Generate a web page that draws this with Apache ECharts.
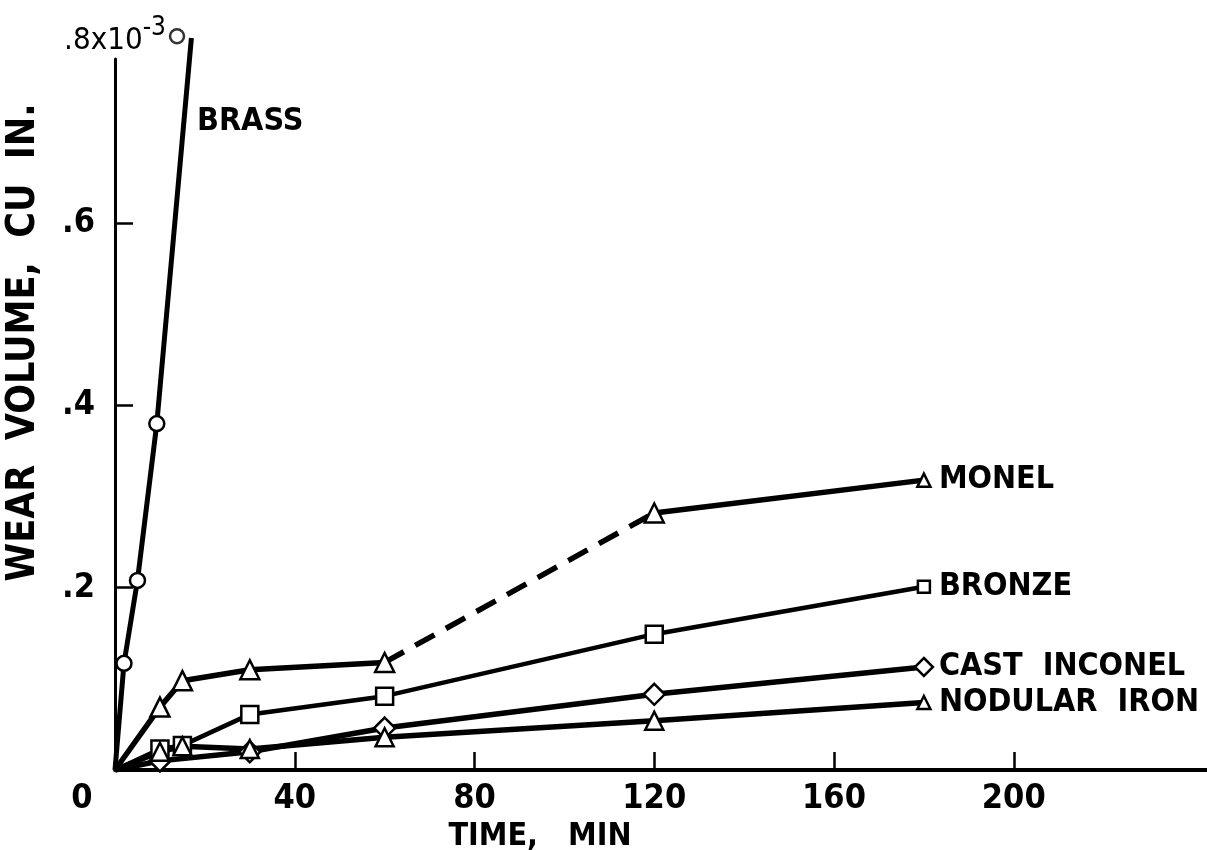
<!DOCTYPE html>
<html><head><meta charset="utf-8">
<script src="https://cdn.jsdelivr.net/npm/echarts@6/dist/echarts.min.js"></script>
<style>html,body{margin:0;padding:0;background:#fff}#c{width:1207px;height:850px}</style>
</head><body><div id="c"></div>
<script>
// ---- data (time in minutes, wear volume in 10^-3 cu in.) ----
const times = [0, 10, 15, 30, 60, 120, 180];
const monel = [0, 0.069, 0.098, 0.110, 0.118, 0.282, 0.318];
const bronze = [0, 0.023, 0.027, 0.061, 0.081, 0.149, 0.201];
const nodularIron = [0, 0.020, 0.026, 0.023, 0.036, 0.054, 0.074];
const inconelTimes = [0, 10, 30, 60, 120, 180];
const castInconel = [0, 0.010, 0.020, 0.046, 0.083, 0.113];
const brassTimes = [0, 2, 5, 9.3, 17];
const brass = [0, 0.117, 0.208, 0.380, 0.803];
const brassTopMarker = [[13.8, 0.805]];
const xTickLabels = [0, 40, 80, 120, 160, 200];
const yTickLabels = [0.2, 0.4, 0.6];
const yTopLabel = '.8x10';
const yTopExp = '-3';
const seriesNames = ['BRASS', 'MONEL', 'BRONZE', 'CAST  INCONEL', 'NODULAR  IRON'];

const FONT = "'DejaVu Sans Condensed','DejaVu Sans',sans-serif";
const pairs = (xs, ys) => xs.map((x, i) => [x, ys[i]]);

const monelAll = pairs(times, monel);
const monelA = monelAll.slice(0, 5);
const monelB = monelAll.slice(4, 6);
const monelC = monelAll.slice(5, 7);

function sym(bigSize, endSize, skipFirst, n) {
  return function (v, p) {
    if (skipFirst && p.dataIndex === 0) return 0;
    if (p.dataIndex === n - 1 && endSize) return endSize;
    return bigSize;
  };
}
const itemStyle = { color: '#fff', borderColor: '#000', borderWidth: 2.5 };
const endLabel = (txt) => ({
  show: true, formatter: txt, color: '#000', fontFamily: FONT,
  fontSize: 32, fontWeight: 'bold', distance: 15
});

const chart = echarts.init(document.getElementById('c'), null, { renderer: 'canvas' });
chart.setOption({
  backgroundColor: '#fff',
  animation: false,
  grid: { left: 115, right: 0, top: 59, bottom: 80, containLabel: false, outerBoundsMode: 'none' },
  xAxis: {
    type: 'value', min: 0, max: 243, interval: 40,
    name: 'TIME,   MIN', nameLocation: 'middle', nameGap: 47,
    nameTextStyle: { color: '#000', fontFamily: FONT, fontSize: 32, fontWeight: 'bold', padding: [0, 242, 0, 0] },
    axisLine: { show: true, lineStyle: { color: '#000', width: 4 } },
    axisTick: { show: true, inside: true, length: 18, lineStyle: { color: '#000', width: 2.5 }, customValues: xTickLabels.slice(1) },
    axisLabel: {
      color: '#000', fontFamily: FONT, fontSize: 34, fontWeight: 'bold', margin: 12,
      customValues: xTickLabels,
      formatter: v => v === 0 ? '{o|0}' : String(v),
      rich: { o: { fontFamily: FONT, fontSize: 34, fontWeight: 'bold', color: '#000', padding: [0, 66, 0, 0] } }
    },
    splitLine: { show: false }
  },
  yAxis: [{
    type: 'value', min: 0, max: 0.78, interval: 0.2,
    name: '{a|' + yTopLabel + '}{s|' + yTopExp + '}', nameLocation: 'end', nameGap: 3,
    nameTextStyle: {
      rich: {
        a: { fontFamily: FONT, fontSize: 31, color: '#000', verticalAlign: 'bottom' },
        s: { fontFamily: FONT, fontSize: 26, color: '#000', verticalAlign: 'bottom', padding: [0, 0, 15, 0] }
      }
    },
    axisLine: { show: true, lineStyle: { color: '#000', width: 3 } },
    axisTick: { show: true, inside: true, length: 18, lineStyle: { color: '#000', width: 2.5 }, customValues: yTickLabels },
    axisLabel: {
      color: '#000', fontFamily: FONT, fontSize: 34, fontWeight: 'bold', margin: 20,
      customValues: yTickLabels,
      formatter: v => String(v).replace(/^0/, '')
    },
    splitLine: { show: false }
  }, {
    type: 'value', min: 0, max: 0.78, position: 'left',
    name: 'WEAR  VOLUME,  CU  IN.', nameLocation: 'middle', nameRotate: 90, nameGap: 72,
    nameTextStyle: { color: '#000', fontFamily: FONT, fontSize: 39, fontWeight: 'bold', padding: [0, 0, 0, 144] },
    axisLine: { show: false }, axisTick: { show: false }, axisLabel: { show: false }, splitLine: { show: false }
  }],
  graphic: [{
    type: 'text', left: 197, top: 106,
    style: { text: seriesNames[0], fill: '#000', font: "bold 32px " + FONT }
  }],
  series: [
    {
      name: seriesNames[0], type: 'line', clip: false, data: pairs(brassTimes, brass),
      symbol: 'circle', showAllSymbol: true,
      symbolSize: (v, p) => (p.dataIndex === 0 || p.dataIndex === brass.length - 1) ? 0 : 15,
      lineStyle: { color: '#000', width: 5 }, itemStyle, z: 3
    },
    {
      name: seriesNames[0], type: 'scatter', clip: false, data: brassTopMarker,
      symbol: 'circle', symbolSize: 14, itemStyle, z: 4
    },
    {
      name: seriesNames[1], type: 'line', data: monelA, symbol: 'triangle', showAllSymbol: true,
      symbolSize: sym(19, 0, true, monelA.length), lineStyle: { color: '#000', width: 5.5 }, itemStyle, z: 3
    },
    {
      name: seriesNames[1], type: 'line', data: monelB, symbol: 'none',
      lineStyle: { color: '#000', width: 5.5, type: [22, 13] }, z: 2
    },
    {
      name: seriesNames[1], type: 'line', data: monelC, symbol: 'triangle', showAllSymbol: true,
      symbolSize: sym(19, 13, false, monelC.length), lineStyle: { color: '#000', width: 5.5 }, itemStyle,
      endLabel: endLabel(seriesNames[1]), z: 3
    },
    {
      name: seriesNames[2], type: 'line', data: pairs(times, bronze), symbol: 'rect', showAllSymbol: true,
      symbolSize: sym(17, 12, true, times.length), lineStyle: { color: '#000', width: 4.5 }, itemStyle,
      endLabel: endLabel(seriesNames[2]), z: 3
    },
    {
      name: seriesNames[3], type: 'line', data: pairs(inconelTimes, castInconel), symbol: 'diamond', showAllSymbol: true,
      symbolSize: sym(21, 18, true, inconelTimes.length), lineStyle: { color: '#000', width: 5.5 }, itemStyle,
      endLabel: endLabel(seriesNames[3]), z: 3
    },
    {
      name: seriesNames[4], type: 'line', data: pairs(times, nodularIron), symbol: 'triangle', showAllSymbol: true,
      symbolSize: sym(18, 13, true, times.length), lineStyle: { color: '#000', width: 5.5 }, itemStyle,
      endLabel: endLabel(seriesNames[4]), z: 3
    }
  ]
});
</script></body></html>
